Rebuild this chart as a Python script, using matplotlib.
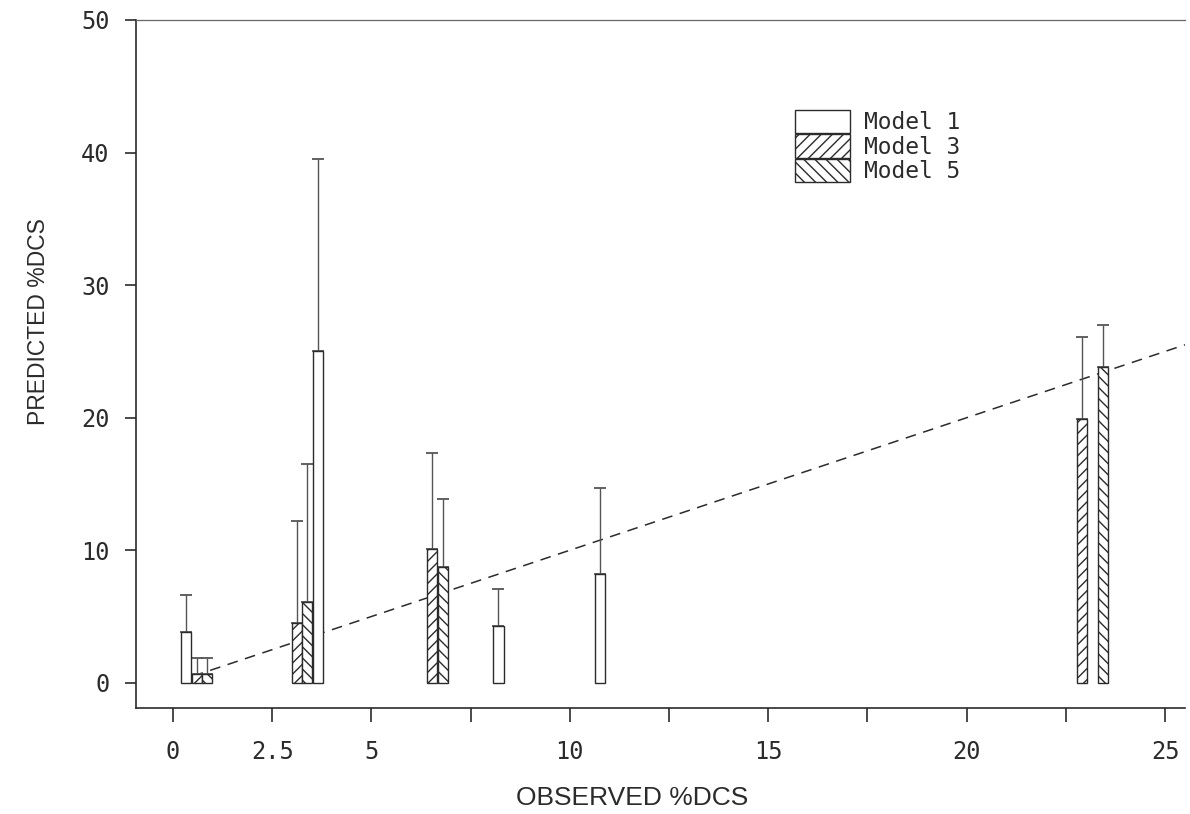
import matplotlib
matplotlib.use('Agg')
import matplotlib.pyplot as plt
import numpy as np

# observed %DCS position, predicted %DCS and upper limit of each bar
model1_x = [0.33, 3.65, 8.2, 10.76]
model1_y = [3.8, 25.0, 4.3, 8.2]
model1_hi = [6.6, 39.5, 7.1, 14.7]

model3_x = [0.6, 3.12, 6.52, 22.9]
model3_y = [0.7, 4.5, 10.1, 19.9]
model3_hi = [1.9, 12.2, 17.3, 26.1]

model5_x = [0.86, 3.38, 6.8, 23.44]
model5_y = [0.7, 6.1, 8.7, 23.8]
model5_hi = [1.9, 16.5, 13.9, 27.0]

labels = ['Model 1', 'Model 3', 'Model 5']
hatches = ['', '///', '\\\\\\']

xticks = [0, 2.5, 5, 10, 15, 20, 25]
xticks_minor = [7.5, 12.5, 17.5, 22.5]
yticks = [0, 10, 20, 30, 40, 50]
identity = [0.5, 25.5]

ink = '#2b2b2b'
plt.rcParams['hatch.linewidth'] = 1.0
plt.rcParams['hatch.color'] = ink
mono = 'DejaVu Sans Mono'
sans = ['Liberation Sans', 'DejaVu Sans']

fig = plt.figure(figsize=(11.9, 8.14), dpi=100)
ax = fig.add_axes([136 / 1190, 106 / 814, (1185 - 136) / 1190, (794 - 106) / 814])

bar_w = 0.26
series = [(model1_x, model1_y, model1_hi),
          (model3_x, model3_y, model3_hi),
          (model5_x, model5_y, model5_hi)]
for (xs, ys, his), lab, h in zip(series, labels, hatches):
    ax.bar(xs, ys, width=bar_w, color='white', edgecolor=ink, linewidth=1.0,
           hatch=h, label=lab, zorder=3)
    up = np.array(his) - np.array(ys)
    ax.errorbar(xs, ys, yerr=[np.zeros_like(up), up], fmt='none',
                ecolor='#555555', elinewidth=1.0, capsize=4.5, capthick=1.3,
                zorder=2)

ax.plot(identity, identity, color=ink, linestyle=(0, (7, 5)), linewidth=1.1,
        zorder=1)

ax.set_xlim(-0.93, 25.5)
ax.set_ylim(-1.9, 50)
ax.set_xticks(xticks)
ax.set_xticklabels(['0', '2.5', '5', '10', '15', '20', '25'])
ax.set_xticks(xticks_minor, minor=True)
ax.set_yticks(yticks)

ax.spines['right'].set_visible(False)
for s in ['left', 'bottom', 'top']:
    ax.spines[s].set_color(ink)
    ax.spines[s].set_linewidth(1.2)
ax.spines['top'].set_color('#666666')
ax.spines['top'].set_linewidth(0.9)

ax.tick_params(axis='x', which='both', direction='out', length=10, width=1.2,
               color=ink, pad=13, labelsize=17, labelcolor=ink)
ax.tick_params(axis='y', direction='out', length=8, width=1.2, color=ink,
               pad=11, labelsize=17, labelcolor=ink)
for t in ax.get_xticklabels() + ax.get_yticklabels():
    t.set_fontfamily(mono)

ax.set_xlabel('OBSERVED %DCS', fontsize=19, family=sans, color=ink)
ax.set_ylabel('PREDICTED %DCS', fontsize=16.5, family=sans, color=ink)
ax.xaxis.set_label_coords((632 - 136) / 1049, -(798 - 708) / 688, transform=ax.transAxes)
ax.yaxis.set_label_coords(-(136 - 39) / 1049, (708 - 322) / 688, transform=ax.transAxes)
ax.xaxis.label.set_va('center')
ax.yaxis.label.set_va('center')

leg = ax.legend(loc='upper left', bbox_to_anchor=(795 / 1190, 1 - 110 / 814),
                bbox_transform=fig.transFigure, frameon=False, borderpad=0,
                borderaxespad=0, labelspacing=0, handlelength=2.4,
                handleheight=1.2, handletextpad=0.6,
                prop={'family': mono, 'size': 16.5})
for t in leg.get_texts():
    t.set_color(ink)

fig.savefig('out.png', dpi=100, facecolor='white')
